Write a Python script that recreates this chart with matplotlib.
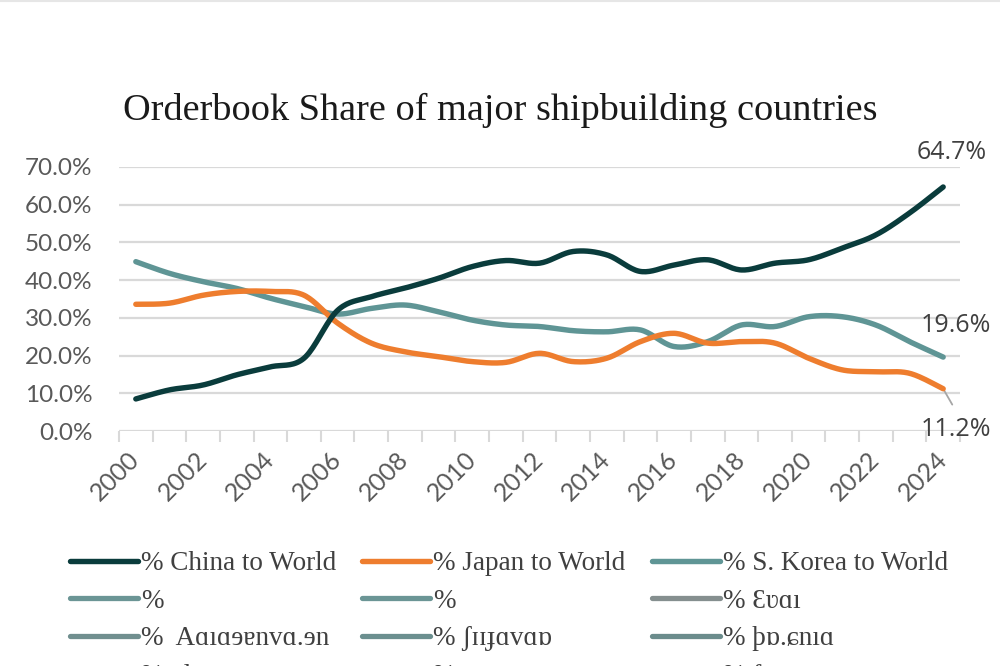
import numpy as np
import matplotlib
matplotlib.use("Agg")
import matplotlib.pyplot as plt
from matplotlib.lines import Line2D

years = list(range(2000, 2025))
china = [8.5, 10.9, 12.2, 14.9, 17.0, 19.3, 32.0, 35.6, 37.9, 40.5, 43.6, 45.2,
         44.5, 47.6, 46.7, 42.3, 44.0, 45.4, 42.7, 44.5, 45.4, 48.5, 52.0, 57.8, 64.7]
japan = [33.6, 33.9, 36.0, 37.0, 37.0, 36.0, 28.6, 23.3, 21.0, 19.7, 18.4, 18.2,
         20.6, 18.4, 19.3, 23.7, 25.9, 23.3, 23.7, 23.3, 19.3, 16.2, 15.7, 15.3, 11.2]
korea = [44.9, 41.8, 39.6, 37.8, 35.2, 33.0, 31.0, 32.5, 33.4, 31.6, 29.4, 28.1,
         27.7, 26.6, 26.3, 26.8, 22.4, 23.7, 28.1, 27.7, 30.3, 30.3, 28.1, 23.7, 19.6]
yticks = [0, 10, 20, 30, 40, 50, 60, 70]
xlabels = [str(y) for y in years[::2]]

series_labels = ["% China to World", "% Japan to World", "% S. Korea to World"]
# remaining legend rows, row by row (3 per row)
extra_labels = ["%", "%", "% Ɛʋɑı",
                "%  Aɑıɑɘɐnvɑ.ɘn", "% ʃɪɪɟɑvɑɒ", "% þɒ.ɕnıɑ",
                "% olooıtozone", "% ɟɑɕɛo", "% frızooınwıuɑɛ"]
extra_colors = ["#6b9595", "#6b9595", "#858f8f",
                "#708f8f", "#6b8f8f", "#6b8c8c",
                "#d9d9d9", "#f7d9c6", "#d9d9d9"]


def smooth(y, n=20):
    """Excel-like Bezier smoothing through the points."""
    x = np.arange(len(y), dtype=float)
    y = np.asarray(y, dtype=float)
    P = np.column_stack([x, y])
    out = []
    t = np.linspace(0, 1, n)[:, None]
    for i in range(len(P) - 1):
        p0 = P[i - 1] if i > 0 else P[i]
        p1 = P[i]
        p2 = P[i + 1]
        p3 = P[i + 2] if i + 2 < len(P) else P[i + 1]
        c1 = p1 + (p2 - p0) / 6.0
        c2 = p2 - (p3 - p1) / 6.0
        seg = ((1 - t) ** 3) * p1 + 3 * ((1 - t) ** 2) * t * c1 + 3 * (1 - t) * t ** 2 * c2 + t ** 3 * p2
        out.append(seg if i == 0 else seg[1:])
    s = np.vstack(out)
    return s[:, 0], s[:, 1]


fig = plt.figure(figsize=(10, 6.66), dpi=100)
fig.patch.set_facecolor("white")
ax = fig.add_axes([0.119, 1 - 431 / 666, 0.841, (431 - 167) / 666])

grid_c = "#d9d9d9"
for v in yticks:
    ax.axhline(v, color=grid_c, lw=1.6, zorder=1)

c_china, c_japan, c_korea = "#0a3c3c", "#ee7d2e", "#5f9595"
lw = 3.9
xs, ys = smooth(china)
l1, = ax.plot(xs, ys, color=c_china, lw=lw, solid_capstyle="round", zorder=5)
xs, ys = smooth(japan)
l2, = ax.plot(xs, ys, color=c_japan, lw=lw, solid_capstyle="round", zorder=4)
xs, ys = smooth(korea)
l3, = ax.plot(xs, ys, color=c_korea, lw=lw, solid_capstyle="round", zorder=3)

ax.set_xlim(-0.5, len(years) - 0.5)
ax.set_ylim(0, 70)
for s in ["top", "right", "left", "bottom"]:
    ax.spines[s].set_visible(False)

ax.set_yticks(yticks)
ax.set_yticklabels([f"{v:.1f}%" for v in yticks], fontsize=17.5, color="#595959",
                   family="Lato")
ax.tick_params(axis="y", length=0, pad=19)

ax.set_xticks(np.arange(-0.5, len(years), 1.0), minor=True)
ax.set_xticks(np.arange(0, len(years), 2))
ax.set_xticklabels(xlabels, rotation=45, ha="right", va="center", rotation_mode="anchor",
                   fontsize=18, color="#595959", family="Lato")
ax.tick_params(axis="x", which="major", length=0, pad=18)
ax.tick_params(axis="x", which="minor", length=8, width=1.5, color=grid_c)

# data labels
lab_kw = dict(fontsize=18, color="#404040", family="Open Sans", ha="center")
ax.annotate(f"{china[-1]:.1f}%", (24, china[-1]), xytext=(6, 16), textcoords="offset points",
            va="bottom", **lab_kw)
ax.annotate(f"{korea[-1]:.1f}%", (24, korea[-1]), xytext=(9, 23), textcoords="offset points",
            va="center", **lab_kw)
ax.annotate(f"{japan[-1]:.1f}%", (24, japan[-1]), xytext=(9, -29), textcoords="offset points",
            va="center", **lab_kw)
ax.annotate("", (24, japan[-1]), xytext=(24.27, 7.0), textcoords="data",
            arrowprops=dict(arrowstyle="-", color="#a6a6a6", lw=1.3, shrinkA=0, shrinkB=0))

fig.text(0.5, 1 - 110 / 666, "Orderbook Share of major shipbuilding countries",
         ha="center", va="center", fontsize=27.5, color="#1a1a1a", family="Liberation Serif")

# legend: matplotlib fills columns first, so reorder row-major entries
row_handles = [l1, l2, l3] + [Line2D([], [], color=c, lw=3.8, solid_capstyle="round")
                              for c in extra_colors]
row_labels = series_labels + extra_labels
ncol = 3
nrow = len(row_labels) // ncol
order = [r * ncol + c for c in range(ncol) for r in range(nrow)]
handles = [row_handles[i] for i in order]
labels = [row_labels[i] for i in order]
leg = fig.legend(handles, labels, ncol=ncol, loc="upper left", bbox_to_anchor=(0.07, 1 - 551 / 666),
                 frameon=False, handlelength=2.5, handletextpad=0.12, columnspacing=0.97,
                 labelspacing=0.47, borderpad=0, borderaxespad=0,
                 prop={"family": "Liberation Serif", "size": 19.5})
for t in leg.get_texts():
    t.set_color("#404040")

fig.add_artist(Line2D([0, 1], [0.999, 0.999], color="#e6e6e6", lw=1.5, transform=fig.transFigure))

fig.savefig("out.png", dpi=100)
